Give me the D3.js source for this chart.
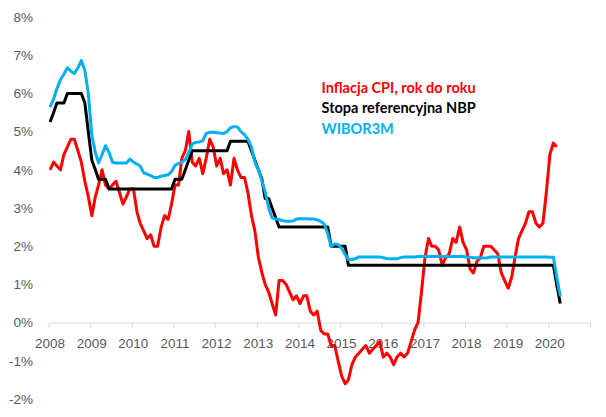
<!DOCTYPE html>
<html>
<head>
<meta charset="utf-8">
<script src="https://cdn.jsdelivr.net/npm/d3@7"></script>
<style>
  html, body { margin: 0; padding: 0; background: #fff; }
  svg { display: block; font-family: Lato, "Open Sans", sans-serif; }
  .axis text { fill: #595959; font-size: 13.5px; }
  .axis line, .axis path { stroke: #d9d9d9; }
</style>
</head>
<body>
<svg id="chart" width="606" height="417"></svg>
<script>
// monthly values, Jan 2008 onwards
var cpi = [
  4.0, 4.2, 4.1, 4.0, 4.4, 4.6, 4.8, 4.8, 4.5, 4.2, 3.7, 3.3,
  2.8, 3.3, 3.6, 4.0, 3.6, 3.5, 3.6, 3.7, 3.4, 3.1, 3.3, 3.5,
  3.5, 2.9, 2.6, 2.4, 2.2, 2.3, 2.0, 2.0, 2.5, 2.8, 2.7, 3.1,
  3.6, 3.6, 4.3, 4.5, 5.0, 4.2, 4.1, 4.3, 3.9, 4.3, 4.8, 4.6,
  4.1, 4.3, 3.9, 4.0, 3.6, 4.3, 4.0, 3.8, 3.8, 3.4, 2.8, 2.4,
  1.7, 1.3, 1.0, 0.8, 0.5, 0.2, 1.1, 1.1, 1.0, 0.8, 0.6, 0.7,
  0.5, 0.7, 0.7, 0.3, 0.2, 0.3, -0.2, -0.3, -0.3, -0.6, -0.6, -1.0,
  -1.4, -1.6, -1.5, -1.1, -0.9, -0.8, -0.7, -0.6, -0.8, -0.7, -0.6, -0.5,
  -0.9, -0.8, -0.9, -1.1, -0.9, -0.8, -0.9, -0.8, -0.5, -0.2, 0.0, 0.8,
  1.7, 2.2, 2.0, 2.0, 1.9, 1.5, 1.7, 1.8, 2.2, 2.1, 2.5, 2.1,
  1.9, 1.4, 1.3, 1.6, 1.7, 2.0, 2.0, 2.0, 1.9, 1.8, 1.3, 1.1,
  0.9, 1.2, 1.7, 2.2, 2.4, 2.6, 2.9, 2.9, 2.6, 2.5, 2.6, 3.4,
  4.4, 4.7, 4.6
];

var nbp = [
  5.25, 5.5, 5.75, 5.75, 5.75, 6.0, 6.0, 6.0, 6.0, 6.0, 5.75, 5.0,
  4.25, 4.0, 3.75, 3.75, 3.75, 3.5, 3.5, 3.5, 3.5, 3.5, 3.5, 3.5,
  3.5, 3.5, 3.5, 3.5, 3.5, 3.5, 3.5, 3.5, 3.5, 3.5, 3.5, 3.5,
  3.75, 3.75, 3.75, 4.0, 4.25, 4.5, 4.5, 4.5, 4.5, 4.5, 4.5, 4.5,
  4.5, 4.5, 4.5, 4.5, 4.75, 4.75, 4.75, 4.75, 4.75, 4.75, 4.5, 4.25,
  4.0, 3.75, 3.25, 3.25, 3.0, 2.75, 2.5, 2.5, 2.5, 2.5, 2.5, 2.5,
  2.5, 2.5, 2.5, 2.5, 2.5, 2.5, 2.5, 2.5, 2.5, 2.0, 2.0, 2.0,
  2.0, 2.0, 1.5, 1.5, 1.5, 1.5, 1.5, 1.5, 1.5, 1.5, 1.5, 1.5,
  1.5, 1.5, 1.5, 1.5, 1.5, 1.5, 1.5, 1.5, 1.5, 1.5, 1.5, 1.5,
  1.5, 1.5, 1.5, 1.5, 1.5, 1.5, 1.5, 1.5, 1.5, 1.5, 1.5, 1.5,
  1.5, 1.5, 1.5, 1.5, 1.5, 1.5, 1.5, 1.5, 1.5, 1.5, 1.5, 1.5,
  1.5, 1.5, 1.5, 1.5, 1.5, 1.5, 1.5, 1.5, 1.5, 1.5, 1.5, 1.5,
  1.5, 1.5, 1.0, 0.5
];

var wibor = [
  5.64, 5.86, 6.12, 6.36, 6.5, 6.67, 6.58, 6.52, 6.67, 6.86, 6.6, 6.0,
  4.9, 4.45, 4.18, 4.4, 4.63, 4.45, 4.2, 4.18, 4.18, 4.18, 4.18, 4.28,
  4.2, 4.15, 4.1, 3.92, 3.89, 3.85, 3.8, 3.8, 3.83, 3.85, 3.87, 3.95,
  4.12, 4.17, 4.2, 4.27, 4.45, 4.68, 4.72, 4.73, 4.76, 4.95, 4.98, 4.98,
  4.97, 4.96, 4.95, 5.0, 5.1, 5.13, 5.12, 5.0, 4.92, 4.8, 4.6, 4.2,
  4.0, 3.7, 3.43, 3.0, 2.74, 2.71, 2.7, 2.67, 2.65, 2.65, 2.66, 2.71,
  2.72, 2.72, 2.72, 2.71, 2.71, 2.69, 2.65, 2.58, 2.33, 1.99, 2.06, 2.04,
  1.95, 1.78, 1.65, 1.65, 1.67, 1.72, 1.72, 1.72, 1.72, 1.72, 1.72, 1.72,
  1.70, 1.68, 1.67, 1.67, 1.67, 1.70, 1.72, 1.72, 1.72, 1.72, 1.73, 1.73,
  1.73, 1.73, 1.73, 1.73, 1.73, 1.73, 1.73, 1.73, 1.73, 1.73, 1.73, 1.73,
  1.72, 1.71, 1.70, 1.70, 1.69, 1.69, 1.70, 1.72, 1.72, 1.72, 1.72, 1.72,
  1.72, 1.72, 1.72, 1.72, 1.72, 1.72, 1.72, 1.72, 1.72, 1.72, 1.72, 1.72,
  1.71, 1.71, 1.2, 0.69
];

var yTicks = [-2, -1, 0, 1, 2, 3, 4, 5, 6, 7, 8];
var years = d3.range(2008, 2022);

var legendLabels = ["Inflacja CPI, rok do roku", "Stopa referencyjna NBP", "WIBOR3M"];
var colors = ["#ff0000", "#000000", "#00b0f0"];

var svg = d3.select("#chart");

var x = d3.scaleTime()
    .domain([new Date(2008, 0, 1), new Date(2021, 0, 1)])
    .range([48.5, 590]);
var y = d3.scaleLinear().domain([-2, 8]).range([399, 17]);

    // month index -> mid-month date
function monthDate(i) {
    return new Date(2008, i, 15);
}

    // y axis, labels only
var yAxis = svg.append("g")
    .attr("class", "axis")
    .attr("transform", "translate(36,0)")
    .call(d3.axisLeft(y).tickValues(yTicks).tickSize(0).tickPadding(3)
        .tickFormat(function(d) { return d + "%"; }));
yAxis.select(".domain").remove();

    // x axis sits on 0%
var xAxis = svg.append("g")
    .attr("class", "axis")
    .attr("transform", "translate(0," + y(0) + ")")
    .call(d3.axisBottom(x)
        .tickValues(years.map(function(yr) { return new Date(yr, 0, 1); }))
        .tickSize(5).tickSizeOuter(0).tickPadding(10.5)
        .tickFormat(function(d) { return d.getFullYear() < 2021 ? d.getFullYear() : ""; }));
xAxis.selectAll("text").attr("dx", "1px");

var line = d3.line()
    .x(function(d, i) { return x(monthDate(i)); })
    .y(function(d) { return y(d); });

    // red first, then black, blue on top
[cpi, nbp, wibor].forEach(function(series, k) {
    svg.append("path")
        .datum(series)
        .attr("fill", "none")
        .attr("stroke", colors[k])
        .attr("stroke-width", 3)
        .attr("stroke-linejoin", "round")
        .attr("d", line);
});

    // legend as plain coloured text
var legend = svg.append("g").attr("transform", "translate(321.5,0)");
legendLabels.forEach(function(label, k) {
    legend.append("text")
        .attr("x", 0)
        .attr("y", 92.5 + k * 20.8)
        .attr("fill", colors[k])
        .attr("font-size", "14.5px")
        .attr("font-weight", "bold")
        .text(label);
});
</script>
</body>
</html>
